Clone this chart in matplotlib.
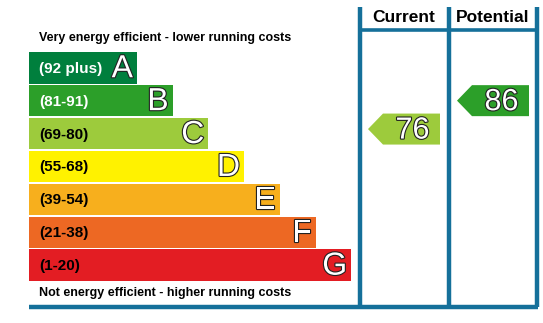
import matplotlib.pyplot as plt
import matplotlib.patheffects as pe
from matplotlib.patches import Rectangle, Polygon

plt.rcParams['font.family'] = ['Liberation Sans', 'DejaVu Sans']

# EPC bands, top (most efficient) to bottom
band_letters = ['A', 'B', 'C', 'D', 'E', 'F', 'G']
band_ranges = ['(92 plus)', '(81-91)', '(69-80)', '(55-68)', '(39-54)', '(21-38)', '(1-20)']
band_low = [92, 81, 69, 55, 39, 21, 1]
band_high = [100, 91, 80, 68, 54, 38, 20]
band_colors = ['#007f3d', '#2c9f29', '#9dcb3c', '#fff200', '#f7af1d', '#ed6823', '#e31d23']
label_colors = ['white', 'white', 'black', 'black', 'black', 'black', 'black']

current_rating = 76
potential_rating = 86

frame_color = '#15709a'

W, H = 543, 323
fig = plt.figure(figsize=(W / 100, H / 100), dpi=100)
ax = fig.add_axes([0, 0, 1, 1])
ax.set_xlim(0, W)
ax.set_ylim(H, 0)
ax.axis('off')

bar_x = 29
bar_top = 52
pitch = 32.9
bar_h = 31.5
bar_w0 = 108
bar_step = 35.7

outline = [pe.withStroke(linewidth=1.6, foreground='#222222')]


def band_of(value):
    for i in range(len(band_low)):
        if band_low[i] <= value <= band_high[i]:
            return i
    return len(band_low) - 1


def rating_y(value):
    # centre of the band, nudged by where the value sits inside its range
    i = band_of(value)
    frac = (value - band_low[i]) / (band_high[i] - band_low[i])
    centre = bar_top + i * pitch + bar_h / 2
    return centre - (frac - 0.5) * pitch


for i, letter in enumerate(band_letters):
    y = bar_top + i * pitch
    w = bar_w0 + bar_step * i
    ax.add_patch(Rectangle((bar_x, y), w, bar_h, color=band_colors[i], lw=0))
    ax.text(bar_x + 10, y + bar_h / 2 + 1, band_ranges[i], color=label_colors[i],
            fontsize=11, fontweight='bold', va='center', ha='left')
    ax.text(bar_x + w - 4, y + bar_h / 2 + 1.5, letter, color='white',
            fontsize=23, va='center', ha='right', path_effects=outline)

ax.text(39, 38, 'Very energy efficient - lower running costs', fontsize=9,
        fontweight='bold', va='center', ha='left')
ax.text(39, 293, 'Not energy efficient - higher running costs', fontsize=9,
        fontweight='bold', va='center', ha='left')

# frame around the rating columns
col_x = [359.5, 448.5, 536.5]
for x in col_x:
    ax.plot([x, x], [7, 307], color=frame_color, lw=3.2, solid_capstyle='butt')
ax.plot([358, 538], [30, 30], color=frame_color, lw=2.6, solid_capstyle='butt')
ax.plot([29, 538], [307, 307], color=frame_color, lw=3.2, solid_capstyle='butt')

ax.text((col_x[0] + col_x[1]) / 2, 17, 'Current', fontsize=12.5, fontweight='bold',
        va='center', ha='center')
ax.text((col_x[1] + col_x[2]) / 2, 17, 'Potential', fontsize=12.5, fontweight='bold',
        va='center', ha='center')


def rating_arrow(value, x_tip, x_right):
    i = band_of(value)
    yc = rating_y(value)
    h = 31
    pts = [(x_tip, yc), (x_tip + 15, yc - h / 2), (x_right, yc - h / 2),
           (x_right, yc + h / 2), (x_tip + 15, yc + h / 2)]
    ax.add_patch(Polygon(pts, closed=True, color=band_colors[i], lw=0))
    ax.text((x_tip + 15 + x_right) / 2 + 1, yc + 1.5, str(value), color='white',
            fontsize=22, va='center', ha='center', path_effects=outline)


rating_arrow(current_rating, 368, 440)
rating_arrow(potential_rating, 457, 529)

fig.savefig('out.png', dpi=100)
